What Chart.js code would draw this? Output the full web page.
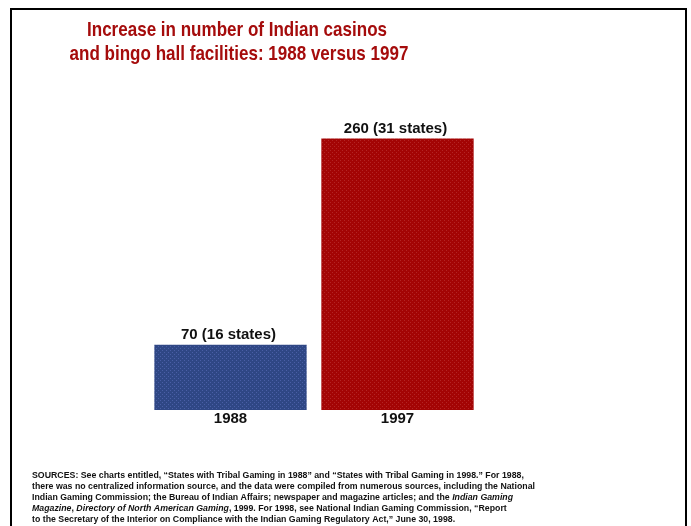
<!DOCTYPE html>
<html>
<head>
<meta charset="utf-8">
<script src="https://cdn.jsdelivr.net/npm/chart.js@4.4.1/dist/chart.umd.min.js"></script>
<style>
  body { margin: 0; background: #fff; }
</style>
</head>
<body>
<canvas id="myChart" width="691" height="526"></canvas>
<script>
// data
const categories = ['1988', '1997'];
const facilities = [70, 260];
const stateCounts = [16, 31];

const titleLines = [
    'Increase in number of Indian casinos',
    'and bingo hall facilities: 1988 versus 1997'
];

// footnote, each line split into [text, italic] pieces
const sourceLines = [
    [['SOURCES: See charts entitled, \u201cStates with Tribal Gaming in 1988\u201d and \u201cStates with Tribal Gaming in 1998.\u201d For 1988,', false]],
    [['there was no centralized information source, and the data were compiled from numerous sources, including the National', false]],
    [['Indian Gaming Commission; the Bureau of Indian Affairs; newspaper and magazine articles; and the ', false], ['Indian Gaming', true]],
    [['Magazine', true], [', ', false], ['Directory of North American Gaming', true], [', 1999. For 1998, see National Indian Gaming Commission, \u201cReport', false]],
    [['to the Secretary of the Interior on Compliance with the Indian Gaming Regulatory Act,\u201d June 30, 1998.', false]]
];

const FONT = '"Liberation Sans", Arial, Helvetica, sans-serif';

//dotted fill like the scanned bars
function makePattern(base, dot) {
    const c = document.createElement('canvas');
    c.width = 4; c.height = 4;
    const p = c.getContext('2d');
    p.fillStyle = base;
    p.fillRect(0, 0, 4, 4);
    p.fillStyle = dot;
    p.fillRect(0, 0, 1, 1);
    p.fillRect(2, 2, 1, 1);
    return p.createPattern(c, 'repeat');
}
const ctx = document.getElementById('myChart');
const blueFill = makePattern('#2f4785', '#4a5fa6');
const redFill = makePattern('#a30404', '#b42424');

const decorations = {
    id: 'decorations',
    beforeDraw(chart) {
        const c = chart.ctx;
        c.save();
        c.fillStyle = '#fff';
        c.fillRect(0, 0, chart.width, chart.height);
        // frame (bottom runs off the page)
        c.strokeStyle = '#000';
        c.lineWidth = 2;
        c.strokeRect(11, 9, 675, 600);
        c.restore();
    },
    afterDraw(chart) {
        const c = chart.ctx;

        // title, squeezed like the original lettering
        c.save();
        c.font = 'bold 21px ' + FONT;
        c.fillStyle = '#a50c0c';
        c.textAlign = 'center';
        c.textBaseline = 'alphabetic';
        const tScale = 300 / c.measureText(titleLines[0]).width;
        c.scale(tScale, 1);
        c.fillText(titleLines[0], 237 / tScale, 36);
        c.fillText(titleLines[1], 239 / tScale, 60);
        c.restore();

        // value labels over the bars
        const meta = chart.getDatasetMeta(0);
        c.save();
        c.font = 'bold 15px ' + FONT;
        c.fillStyle = '#111';
        c.textAlign = 'center';
        c.textBaseline = 'middle';
        meta.data.forEach((bar, i) => {
            c.fillText(facilities[i] + ' (' + stateCounts[i] + ' states)', bar.x - 2, bar.y - 10);
        });
        c.restore();

        // sources
        c.save();
        c.fillStyle = '#111';
        c.textBaseline = 'middle';
        c.font = 'bold 9.5px ' + FONT;
        const sScale = 503 / c.measureText(sourceLines[1][0][0]).width;
        c.scale(sScale, 1);
        sourceLines.forEach((line, i) => {
            let x = 32 / sScale;
            const y = 475 + i * 11.1;
            line.forEach(([txt, italic]) => {
                c.font = (italic ? 'italic ' : '') + 'bold 9.5px ' + FONT;
                c.fillText(txt, x, y);
                x += c.measureText(txt).width;
            });
        });
        c.restore();
    }
};

new Chart(ctx, {
    type: 'bar',
    data: {
        labels: categories,
        datasets: [{
            label: 'Facilities',
            data: facilities,
            backgroundColor: [blueFill, redFill],
            borderWidth: 0,
            barPercentage: 0.912,
            categoryPercentage: 1
        }]
    },
    options: {
        responsive: false,
        animation: false,
        layout: { padding: { left: 147, right: 210, top: 95, bottom: 98 } },
        plugins: {
            legend: { display: false },
            tooltip: { enabled: false }
        },
        scales: {
            x: {
                grid: { display: false, drawTicks: false },
                border: { display: false },
                ticks: { color: '#111', padding: 0, font: { family: FONT, size: 15, weight: 'bold' } }
            },
            y: { display: false, min: 10, max: 300 }
        }
    },
    plugins: [decorations]
});
</script>
</body>
</html>
